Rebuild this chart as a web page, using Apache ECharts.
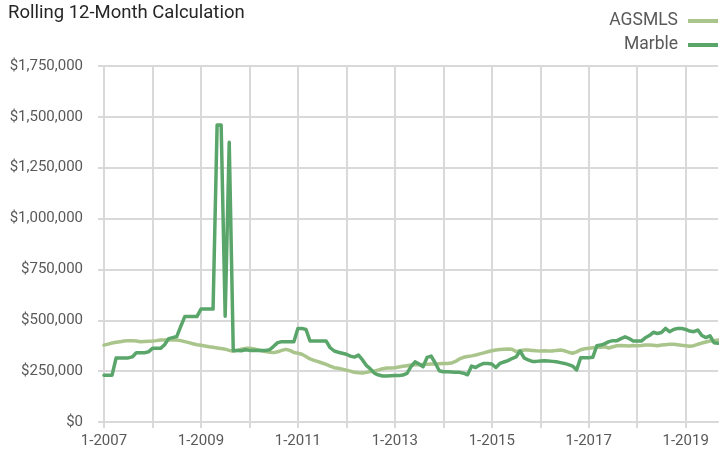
<!DOCTYPE html>
<html>
<head>
<meta charset="utf-8">
<script src="https://cdn.jsdelivr.net/npm/echarts@6/dist/echarts.min.js"></script>
<style>
html,body{margin:0;padding:0;background:#fff;}
#c{width:719px;height:457px;}
</style>
</head>
<body>
<div id="c"></div>
<script>
// Monthly categories 1-2007 .. 9-2019
var startYear = 2007, monthCount = 153;
var categories = [];
for (var i = 0; i < monthCount; i++) {
  categories.push(((i % 12) + 1) + '-' + (startYear + Math.floor(i / 12)));
}

var seriesNames = ['AGSMLS', 'Marble'];

var agsmls = [
  378000,383000,388000,392000,395000,398000,400000,400000,398000,395000,396000,397000,
  398000,400000,403000,403000,404000,403000,403000,400000,395000,390000,385000,380000,
  377000,374000,370000,367000,364000,361000,358000,352000,348000,352000,358000,362000,
  362000,360000,355000,350000,346000,343000,341000,345000,352000,357000,352000,342000,
  338000,333000,322000,310000,303000,297000,290000,283000,275000,267000,264000,260000,
  255000,250000,244000,242000,241000,244000,248000,251000,256000,262000,265000,266000,
  267000,270000,274000,277000,280000,281000,282000,283000,284000,285000,285000,286000,
  287000,288000,290000,298000,310000,318000,322000,325000,329000,335000,340000,345000,
  350000,354000,356000,358000,359000,358000,346000,350000,354000,354000,352000,350000,
  349000,350000,349000,349000,352000,354000,350000,343000,338000,345000,355000,360000,
  363000,365000,367000,368000,370000,364000,370000,375000,376000,375000,374000,376000,
  375000,376000,378000,378000,377000,375000,378000,380000,382000,382000,380000,377000,
  375000,372000,375000,382000,388000,393000,398000,400000,403000
];

var marble = [
  230000,230000,230000,315000,315000,315000,315000,320000,340000,340000,340000,345000,
  362000,362000,362000,380000,410000,415000,420000,470000,518000,518000,518000,518000,
  555000,555000,555000,555000,1460000,1460000,520000,1375000,352000,352000,350000,355000,
  352000,352000,352000,352000,352000,355000,372000,390000,395000,395000,395000,395000,
  460000,460000,455000,398000,398000,398000,398000,398000,365000,349000,343000,338000,
  333000,324000,319000,329000,305000,277000,260000,239000,231000,226000,226000,227000,
  228000,228000,231000,239000,272000,296000,285000,272000,318000,324000,290000,252000,
  247000,247000,246000,245000,244000,240000,232000,275000,268000,280000,288000,288000,
  285000,268000,288000,295000,302000,312000,320000,349000,315000,305000,298000,298000,
  300000,301000,300000,298000,296000,292000,288000,282000,275000,256000,316000,316000,
  316000,318000,375000,378000,385000,395000,400000,400000,410000,419000,410000,398000,
  398000,398000,414000,425000,441000,435000,440000,460000,444000,455000,460000,460000,
  455000,447000,444000,452000,425000,415000,424000,390000,387000
];

var yMin = 0, yMax = 1750000, yInterval = 250000;

var FONT = 'Roboto';
var grid = '#d9d9d9';
var chart = echarts.init(document.getElementById('c'), null, {renderer: 'canvas'});
chart.setOption({
  animation: false,
  backgroundColor: '#ffffff',
  title: {
    text: 'Rolling 12-Month Calculation',
    left: 8, top: 4, padding: 0,
    textStyle: {fontFamily: FONT, fontSize: 18.5, fontWeight: 'normal', color: '#262626'}
  },
  legend: {
    data: seriesNames,
    orient: 'vertical',
    right: 1, top: 11, padding: 0,
    align: 'right',
    icon: 'rect',
    itemWidth: 30, itemHeight: 4,
    itemGap: 4,
    textStyle: {fontFamily: FONT, fontSize: 17.5, color: '#595959', lineHeight: 20, padding: [0, 5, 0, 0]}
  },
  grid: {left: 104, right: 1, top: 66, bottom: 35, containLabel: false},
  xAxis: {
    type: 'category',
    data: categories,
    boundaryGap: false,
    axisLine: {show: true, lineStyle: {color: grid, width: 2}},
    axisTick: {show: true, length: 6, interval: function (idx) { return idx % 12 === 0; }, lineStyle: {color: grid, width: 2}},
    axisLabel: {interval: function (idx) { return idx % 24 === 0; }, margin: 12, fontFamily: FONT, fontSize: 15, color: '#595959'},
    splitLine: {show: true, interval: function (idx) { return idx % 12 === 0; }, lineStyle: {color: grid, width: 2}}
  },
  yAxis: {
    type: 'value',
    min: yMin, max: yMax, interval: yInterval,
    axisLine: {show: false},
    axisTick: {show: true, length: 6, lineStyle: {color: grid, width: 2}},
    axisLabel: {margin: 21, fontFamily: FONT, fontSize: 15, color: '#595959',
      formatter: function (v) { return '$' + v.toLocaleString('en-US'); }},
    splitLine: {show: true, lineStyle: {color: grid, width: 2}}
  },
  series: [
    {name: seriesNames[0], type: 'line', data: agsmls, showSymbol: false, symbol: 'none',
     color: '#a9c58b', lineStyle: {width: 3.5, color: '#a9c58b', join: 'round', cap: 'round'}},
    {name: seriesNames[1], type: 'line', data: marble, showSymbol: false, symbol: 'none',
     color: '#5aa56a', lineStyle: {width: 3.5, color: '#5aa56a', join: 'round', cap: 'round'}}
  ]
});
</script>
</body>
</html>
